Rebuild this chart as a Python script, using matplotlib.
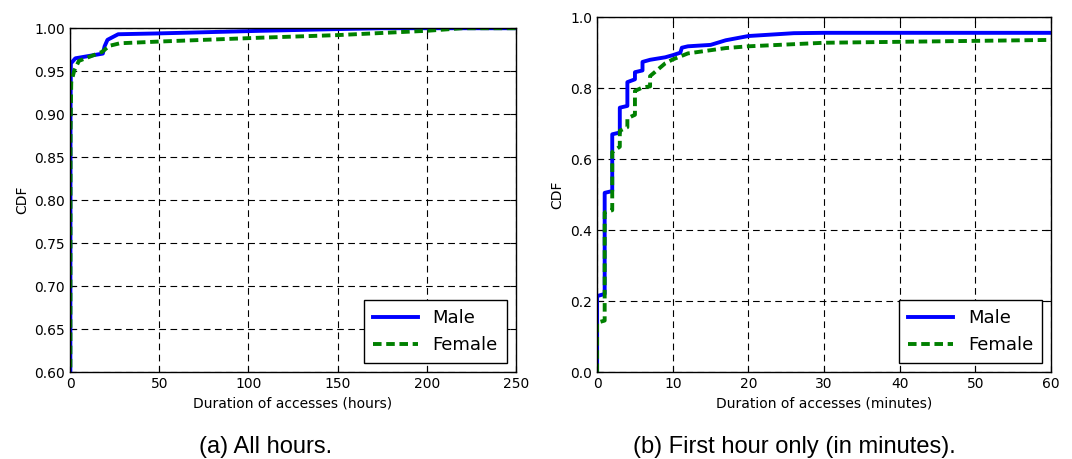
import matplotlib
matplotlib.use("Agg")
import matplotlib.pyplot as plt

# CDF of access durations, all hours (x in hours)
hours_male_x = [0, 0.3, 0.5, 3, 18.4, 19.4, 21, 27, 50, 107, 150, 175, 250]
hours_male_y = [0.0, 0.90, 0.959, 0.965, 0.9705, 0.979, 0.9865, 0.993, 0.994, 0.997, 0.999, 1.0, 1.0]
hours_female_x = [0, 0.3, 0.7, 2.4, 5, 18, 22, 28, 50, 107, 150, 200, 220, 250]
hours_female_y = [0.0, 0.88, 0.937, 0.951, 0.962, 0.9725, 0.9795, 0.9825, 0.9845, 0.989, 0.992, 0.997, 1.0, 1.0]

# CDF of access durations, first hour only (x in minutes)
min_male_x = [0, 0, 1, 1, 2, 2, 3, 3, 4, 4, 5, 5, 6, 6, 7, 9, 10, 11, 11.2, 12, 15, 17, 19, 20, 26, 30, 60]
min_male_y = [0.0, 0.214, 0.22, 0.505, 0.51, 0.67, 0.675, 0.745, 0.75, 0.817, 0.825, 0.845, 0.85, 0.874,
              0.88, 0.887, 0.893, 0.90, 0.914, 0.918, 0.922, 0.935, 0.943, 0.947, 0.955, 0.956, 0.956]
min_female_x = [0, 0, 1, 1, 2, 2, 3, 3, 4, 4, 5, 5, 6, 7, 7, 9, 10, 12, 15, 17, 20, 30, 60]
min_female_y = [0.0, 0.139, 0.145, 0.45, 0.456, 0.62, 0.635, 0.68, 0.69, 0.715, 0.725, 0.792, 0.802,
                0.805, 0.834, 0.87, 0.881, 0.898, 0.907, 0.913, 0.918, 0.928, 0.936]

fig = plt.figure(figsize=(10.72, 4.59), dpi=100)
ax1 = fig.add_axes([0.0653, 0.1895, 0.416, 0.749])
ax2 = fig.add_axes([0.557, 0.1895, 0.4235, 0.773])

LW = 2.8
DASH = (2.2, 1.2)


def style_axes(ax):
    ax.grid(True, color="black", linestyle=(0, (6, 4)), linewidth=0.8)
    ax.tick_params(direction="in", top=True, right=True, labelsize=10, length=4)
    for sp in ax.spines.values():
        sp.set_linewidth(1.0)
    ax.set_ylabel("CDF", fontsize=10)
    leg = ax.legend(loc="lower right", fontsize=13, fancybox=False, framealpha=1,
                    handlelength=2.5, borderpad=0.5)
    leg.get_frame().set_edgecolor("black")


ax1.plot(hours_male_x, hours_male_y, color="#0000ff", lw=LW, label="Male")
ax1.plot(hours_female_x, hours_female_y, color="#008000", lw=LW, dashes=DASH, label="Female")
ax1.set_xlim(0, 250)
ax1.set_ylim(0.60, 1.00)
ax1.set_yticks([0.60, 0.65, 0.70, 0.75, 0.80, 0.85, 0.90, 0.95, 1.00])
ax1.set_yticklabels(["%.2f" % v for v in ax1.get_yticks()])
ax1.set_xlabel("Duration of accesses (hours)", fontsize=10)
style_axes(ax1)

ax2.plot(min_male_x, min_male_y, color="#0000ff", lw=LW, label="Male")
ax2.plot(min_female_x, min_female_y, color="#008000", lw=LW, dashes=DASH, label="Female")
ax2.set_xlim(0, 60)
ax2.set_ylim(0.0, 1.0)
ax2.set_yticks([0.0, 0.2, 0.4, 0.6, 0.8, 1.0])
ax2.set_xlabel("Duration of accesses (minutes)", fontsize=10)
style_axes(ax2)

fig.text(0.248, 0.012, "(a) All hours.", ha="center", fontsize=17, family="Liberation Sans")
fig.text(0.741, 0.012, "(b) First hour only (in minutes).", ha="center", fontsize=17,
         family="Liberation Sans")

fig.savefig("out.png", dpi=100, facecolor="white")
